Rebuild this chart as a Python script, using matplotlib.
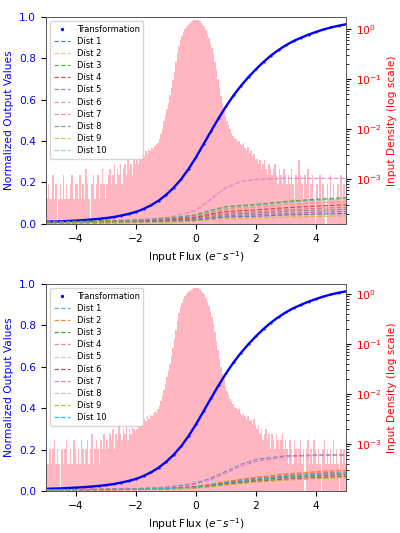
import numpy as np
import matplotlib.pyplot as plt

plt.rcParams['font.size'] = 7.7

# transformation curve (same for both panels)
trans_x = [-5, -4.75, -4.5, -4.25, -4, -3.75, -3.5, -3.25, -3, -2.75, -2.5, -2.25,
           -2, -1.75, -1.5, -1.25, -1, -0.75, -0.5, -0.25, 0, 0.25, 0.5, 0.75,
           1, 1.25, 1.5, 1.75, 2, 2.25, 2.5, 2.75, 3, 3.25, 3.5, 3.75, 4, 4.25,
           4.5, 4.75, 5]
trans_y = [0.010, 0.011, 0.012, 0.014, 0.016, 0.018, 0.021, 0.024, 0.028, 0.033, 0.040, 0.048,
           0.058, 0.072, 0.090, 0.112, 0.140, 0.174, 0.215, 0.265, 0.322, 0.385, 0.448, 0.510,
           0.568, 0.621, 0.668, 0.710, 0.748, 0.783, 0.814, 0.841, 0.864, 0.884, 0.900, 0.915, 0.928, 0.940,
           0.950, 0.958, 0.965]

# x positions of the distribution curves
dist_x = [-5, -4, -3, -2, -1, -0.5, 0, 0.5, 1, 1.5, 2, 3, 4, 5]

top_dists = [
    [0.004, 0.005, 0.006, 0.008, 0.011, 0.014, 0.018, 0.026, 0.033, 0.035, 0.037, 0.043, 0.047, 0.050],
    [0.009, 0.011, 0.013, 0.016, 0.023, 0.029, 0.038, 0.056, 0.070, 0.076, 0.080, 0.092, 0.102, 0.108],
    [0.010, 0.013, 0.015, 0.019, 0.027, 0.034, 0.044, 0.066, 0.083, 0.089, 0.094, 0.108, 0.119, 0.127],
    [0.007, 0.009, 0.011, 0.014, 0.019, 0.025, 0.032, 0.048, 0.060, 0.064, 0.068, 0.078, 0.086, 0.092],
    [0.005, 0.006, 0.007, 0.009, 0.013, 0.016, 0.021, 0.031, 0.039, 0.042, 0.044, 0.051, 0.056, 0.060],
    [0.006, 0.008, 0.010, 0.012, 0.017, 0.022, 0.028, 0.042, 0.052, 0.056, 0.059, 0.068, 0.075, 0.080],
    [0.005, 0.007, 0.010, 0.016, 0.030, 0.045, 0.065, 0.120, 0.175, 0.205, 0.215, 0.220, 0.220, 0.220],
    [0.006, 0.007, 0.008, 0.011, 0.015, 0.019, 0.025, 0.036, 0.046, 0.049, 0.052, 0.060, 0.066, 0.070],
    [0.003, 0.004, 0.005, 0.006, 0.008, 0.010, 0.013, 0.020, 0.025, 0.027, 0.028, 0.032, 0.036, 0.038],
    [0.008, 0.010, 0.013, 0.017, 0.024, 0.031, 0.040, 0.058, 0.074, 0.082, 0.088, 0.102, 0.114, 0.122],
]

bottom_dists = [
    [0.004, 0.006, 0.008, 0.011, 0.018, 0.026, 0.038, 0.062, 0.095, 0.128, 0.152, 0.170, 0.174, 0.175],
    [0.006, 0.007, 0.008, 0.010, 0.014, 0.017, 0.022, 0.032, 0.045, 0.056, 0.066, 0.082, 0.093, 0.100],
    [0.005, 0.006, 0.006, 0.008, 0.011, 0.014, 0.018, 0.026, 0.036, 0.045, 0.053, 0.066, 0.074, 0.080],
    [0.006, 0.006, 0.007, 0.009, 0.013, 0.016, 0.020, 0.029, 0.041, 0.052, 0.061, 0.075, 0.086, 0.092],
    [0.005, 0.006, 0.007, 0.009, 0.012, 0.014, 0.019, 0.027, 0.038, 0.048, 0.056, 0.070, 0.079, 0.085],
    [0.004, 0.005, 0.006, 0.007, 0.010, 0.012, 0.015, 0.022, 0.032, 0.039, 0.046, 0.057, 0.065, 0.070],
    [0.004, 0.005, 0.007, 0.010, 0.016, 0.022, 0.033, 0.055, 0.086, 0.118, 0.143, 0.165, 0.171, 0.172],
    [0.005, 0.005, 0.006, 0.008, 0.011, 0.013, 0.017, 0.024, 0.034, 0.042, 0.050, 0.062, 0.070, 0.075],
    [0.004, 0.004, 0.005, 0.006, 0.009, 0.011, 0.014, 0.020, 0.028, 0.035, 0.042, 0.052, 0.059, 0.063],
    [0.005, 0.006, 0.007, 0.009, 0.012, 0.015, 0.019, 0.028, 0.040, 0.049, 0.058, 0.072, 0.082, 0.088],
]

dist_labels = ['Dist %d' % i for i in range(1, 11)]
dist_colors = ['tab:blue', 'tab:orange', 'tab:green', 'tab:red', 'tab:purple',
               'tab:brown', 'tab:pink', 'tab:gray', 'tab:olive', 'tab:cyan']
top_alpha = [0.8, 0.5, 0.8, 0.8, 0.8, 0.5, 0.8, 0.8, 0.8, 0.5]
bottom_alpha = [0.6, 0.9, 0.9, 0.5, 0.4, 0.9, 0.9, 0.4, 0.9, 0.9]

# input density histogram: log10 of bin height, 200 bins of 0.05 from -5 to 5
# (-9 = empty bin)
top_hist_log = [
    -3.4, -3.1, -3.4, -3.4, -2.92, -3.4, -3.1, -9, -3.4, -3.1, -3.4, -2.92, -3.4, -3.1, -3.4, -3.4, -3.1, -2.92, -3.4, -3.1,
    -3.1, -3.4, -2.92, -3.4, -3.1, -3.4, -2.8, -3.1, -3.4, -9, -3.1, -2.92, -3.4, -3.1, -2.92, -3.4, -3.1, -2.8, -3.1, -3.4,
    -3.1, -2.92, -2.8, -3.1, -2.92, -2.7, -3.1, -2.8, -2.92, -2.7, -3.1, -2.8, -2.7, -2.92, -2.62, -2.8, -2.7, -2.92, -2.62, -2.7,
    -2.62, -2.7, -2.55, -2.6, -2.5, -2.55, -2.45, -2.5, -2.42, -2.45, -2.38, -2.4, -2.35, -2.3, -2.28, -2.2, -2.1, -2.0, -1.85, -1.72,
    -1.6, -1.48, -1.32, -1.18, -1.02, -0.85, -0.65, -0.47, -0.33, -0.22, -0.13, -0.06, 0.0, 0.04, 0.08, 0.11, 0.14, 0.16, 0.18, 0.19,
    0.19, 0.18, 0.16, 0.13, 0.09, 0.04, -0.02, -0.09, -0.17, -0.27, -0.38, -0.5, -0.65, -0.82, -1.0, -1.17, -1.33, -1.48, -1.62, -1.75,
    -1.85, -1.93, -2.0, -2.08, -2.14, -2.18, -2.2, -2.26, -2.24, -2.3, -2.32, -2.28, -2.38, -2.42, -2.36, -2.48, -2.45, -2.55, -2.5, -2.62,
    -2.6, -2.7, -2.62, -2.8, -2.7, -2.62, -2.8, -2.92, -2.7, -2.8, -2.92, -2.8, -2.7, -2.92, -3.1, -2.8, -2.92, -3.1, -2.8, -2.92,
    -3.1, -2.92, -3.1, -2.8, -3.1, -3.4, -2.92, -3.1, -2.62, -2.92, -3.1, -3.4, -2.92, -3.1, -2.8, -3.4, -3.1, -2.92, -3.4, -9,
    -3.1, -3.4, -2.92, -3.4, -3.1, -3.4, -9, -3.1, -3.4, -2.92, -3.4, -3.1, -3.4, -3.4, -3.1, -3.4, -2.92, -3.4, -3.1, -3.4,
]
bottom_hist_log = [
    -3.4, -3.4, -3.1, -3.4, -3.1, -2.92, -3.4, -3.1, -3.4, -9, -3.1, -3.4, -3.1, -2.92, -3.4, -3.4, -3.1, -3.4, -2.92, -3.1,
    -3.4, -3.1, -3.4, -2.92, -3.1, -3.4, -3.1, -2.92, -3.4, -3.1, -2.8, -3.4, -3.1, -2.92, -3.1, -3.4, -2.92, -3.1, -2.8, -3.1,
    -2.92, -3.1, -2.8, -2.92, -2.7, -3.1, -2.8, -2.92, -2.62, -2.8, -2.92, -2.7, -2.8, -2.62, -2.92, -2.7, -2.8, -2.62, -2.7, -2.75,
    -2.7, -2.62, -2.65, -2.55, -2.6, -2.5, -2.55, -2.45, -2.5, -2.42, -2.45, -2.4, -2.36, -2.38, -2.3, -2.25, -2.15, -2.05, -1.92, -1.8,
    -1.66, -1.54, -1.4, -1.25, -1.08, -0.9, -0.72, -0.53, -0.38, -0.26, -0.17, -0.1, -0.04, 0.0, 0.04, 0.07, 0.09, 0.11, 0.12, 0.13,
    0.13, 0.12, 0.1, 0.07, 0.03, -0.02, -0.08, -0.15, -0.24, -0.34, -0.46, -0.6, -0.76, -0.94, -1.12, -1.3, -1.46, -1.6, -1.73, -1.85,
    -1.95, -2.02, -2.1, -2.15, -2.2, -2.26, -2.28, -2.32, -2.3, -2.38, -2.42, -2.38, -2.45, -2.5, -2.45, -2.55, -2.52, -2.6, -2.5, -2.62,
    -2.7, -2.62, -2.8, -2.7, -2.92, -2.8, -2.7, -2.92, -2.8, -3.1, -2.8, -2.92, -3.1, -2.8, -2.92, -3.1, -2.92, -2.8, -3.1, -2.92,
    -3.1, -3.4, -2.92, -3.1, -3.4, -2.92, -3.1, -3.4, -3.1, -2.92, -3.4, -3.1, -9, -3.1, -2.92, -3.4, -3.1, -3.4, -2.92, -3.1,
    -3.4, -3.1, -3.4, -9, -3.1, -2.92, -3.4, -3.1, -3.4, -3.1, -3.4, -2.92, -3.4, -3.1, -3.4, -9, -3.1, -3.4, -3.1, -3.4,
]


def draw_panel(rect, hist_log, dists, alphas, dens_lim):
    ax = fig.add_axes(rect)
    ax2 = ax.twinx()

    edges = np.linspace(-5, 5, len(hist_log) + 1)
    heights = 10.0 ** np.array(hist_log)
    ax2.bar(edges[:-1], heights, width=np.diff(edges), align='edge',
            color='lightpink', linewidth=0)
    ax2.set_yscale('log')
    ax2.set_ylim(dens_lim)
    ax2.set_ylabel('Input Density (log scale)', color='red')
    ax2.tick_params(axis='y', labelcolor='red')

    ax.plot(trans_x, trans_y, color='blue', lw=1.7)
    ax.scatter(trans_x, trans_y, s=0.3, color='blue', label='Transformation')
    for vals, lab, col, a in zip(dists, dist_labels, dist_colors, alphas):
        ax.plot(dist_x, vals, '--', color=col, alpha=a, lw=0.9, label=lab)

    ax.set_zorder(ax2.get_zorder() + 1)
    ax.patch.set_visible(False)
    ax.set_xlim(-5, 5)
    ax.set_ylim(0, 1)
    ax.set_xlabel('Input Flux ($e^{-}s^{-1}$)')
    ax.set_ylabel('Normalized Output Values', color='blue')
    ax.tick_params(axis='y', labelcolor='blue')
    ax.legend(loc='upper left', fontsize=6.0, markerscale=2.5, labelspacing=0.38)

    for a in (ax, ax2):
        for sp in a.spines.values():
            sp.set_color('0.35')
            sp.set_linewidth(0.7)
    return ax


fig = plt.figure(figsize=(4, 5.33), dpi=100)
draw_panel([0.115, 0.580, 0.75, 0.388], top_hist_log, top_dists, top_alpha, (1.26e-4, 1.74))
draw_panel([0.115, 0.079, 0.75, 0.388], bottom_hist_log, bottom_dists, bottom_alpha, (1.15e-4, 1.58))

fig.savefig('out.png', dpi=100)
